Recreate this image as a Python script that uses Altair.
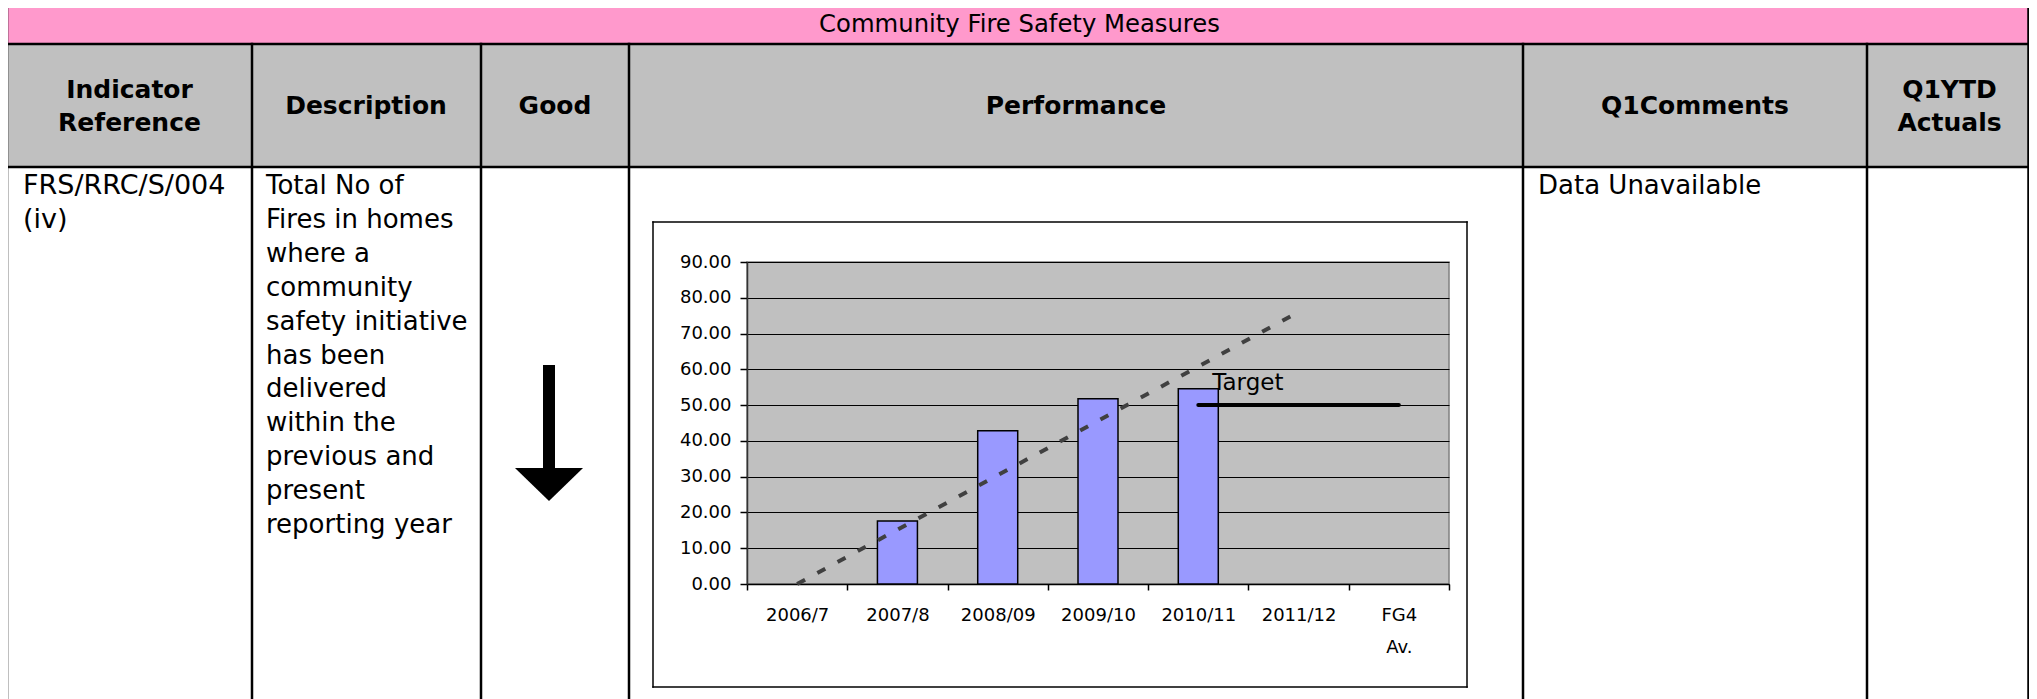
import altair as alt
import pandas as pd

# ---------------- data ----------------
categories = ["2006/7", "2007/8", "2008/09", "2009/10", "2010/11", "2011/12", "FG4 Av."]
bar_categories = ["2007/8", "2008/09", "2009/10", "2010/11"]
bar_values = [17.6, 42.8, 51.8, 54.6]
trend_categories = ["2006/7", "2011/12"]
trend_values = [0.0, 76.0]
target_categories = ["2010/11", "FG4 Av."]
target_values = [50.0, 50.0]
target_label = ["Target"]
y_ticks = [0, 10, 20, 30, 40, 50, 60, 70, 80, 90]

title_text = "Community Fire Safety Measures"
ref_lines = ["FRS/RRC/S/004", "(iv)"]
desc_lines = ["Total No of", "Fires in homes", "where a", "community",
              "safety initiative", "has been", "delivered", "within the",
              "previous and", "present", "reporting year"]
comment_text = "Data Unavailable"

FONT = "DejaVu Sans"
OX, OY = 747, 262          # page position of the plot area origin
PW, PH = 702, 322          # plot area size
SVG_W, SVG_H = 2021, 691   # total drawing size (page margin 8)

one = pd.DataFrame({"k": [0]})


def px(x):
    return x - OX


def py(y):
    return y - OY


def hrule(x1, x2, y, w=2.5, color="black"):
    return alt.Chart(one).mark_rule(color=color, strokeWidth=w, strokeCap="square").encode(
        x=alt.value(px(x1)), x2=alt.value(px(x2)), y=alt.value(py(y)))


def vrule(x, y1, y2, w=2.5, color="black", cap="square"):
    return alt.Chart(one).mark_rule(color=color, strokeWidth=w, strokeCap=cap).encode(
        x=alt.value(px(x)), y=alt.value(py(y1)), y2=alt.value(py(y2)))


def box(x1, x2, y1, y2, fill):
    return alt.Chart(one).mark_rect(color=fill, strokeWidth=0).encode(
        x=alt.value(px(x1)), x2=alt.value(px(x2)), y=alt.value(py(y1)), y2=alt.value(py(y2)))


def label(txt, x, y, size, bold=False, align="center"):
    return alt.Chart(one).mark_text(
        text=txt, font=FONT, fontSize=size, fontWeight="bold" if bold else "normal",
        align=align, baseline="middle", color="black").encode(
        x=alt.value(px(x)), y=alt.value(py(y)))


# table geometry (page pixels)
T_L, T_R, T_T, PINK_B, HEAD_B, T_B = 7, 2028.5, 6, 44, 167, 699
cols = [252, 481, 629, 1523, 1867]

layers = []
layers.append(box(T_L, T_R, T_T, PINK_B, "#FF99CC"))
layers.append(box(T_L, T_R, PINK_B, HEAD_B, "#C0C0C0"))

# chart frame
FR_L, FR_R, FR_T, FR_B = 653, 1467, 222, 687
layers += [hrule(FR_L, FR_R, FR_T, 1.5), hrule(FR_L, FR_R, FR_B, 1.5),
           vrule(FR_L, FR_T, FR_B, 1.5), vrule(FR_R, FR_T, FR_B, 1.5)]

# ---------------- chart ----------------
xscale = alt.Scale(domain=categories, paddingInner=0, paddingOuter=0)
yscale = alt.Scale(domain=[0, 90], nice=False, zero=True)
xaxis = alt.Axis(title=None, labelAngle=0, tickBand="extent", labelFont=FONT, labelFontSize=18,
                 labelColor="black", tickColor="black", domainColor="black", tickSize=6,
                 tickWidth=1.5, domainWidth=1.5, labelPadding=16, grid=False,
                 labelExpr="split(datum.label, ' ')", labelLineHeight=32)
yaxis = alt.Axis(title=None, values=y_ticks, format=".2f", labelFont=FONT, labelFontSize=18,
                 labelColor="black", tickColor="black", domainColor="#333333", tickSize=7,
                 tickWidth=1.5, domainWidth=1.5, labelPadding=9, grid=True,
                 gridColor="black", gridWidth=1)
X = alt.X("cat:N", scale=xscale, axis=xaxis)
Y = alt.Y("v:Q", scale=yscale, axis=yaxis)

bars_df = pd.DataFrame({"cat": bar_categories, "v": bar_values})
trend_df = pd.DataFrame({"cat": trend_categories, "v": trend_values})
target_df = pd.DataFrame({"cat": target_categories, "v": target_values})
tlabel_df = pd.DataFrame({"cat": target_categories[:1], "v": target_values[:1], "label": target_label})

layers.append(alt.Chart(bars_df).mark_bar(size=40, color="#9999FF", stroke="black",
                                          strokeWidth=1.5).encode(x=X, y=Y))
layers.append(alt.Chart(trend_df).mark_line(color="#404040", strokeWidth=4,
                                            strokeDash=[9, 14]).encode(x=X, y=Y))
layers.append(alt.Chart(target_df).mark_line(color="black", strokeWidth=4,
                                             strokeCap="round").encode(x=X, y=Y))
layers.append(alt.Chart(tlabel_df).mark_text(font=FONT, fontSize=23, align="left",
                                             baseline="alphabetic", dx=14, dy=-15,
                                             color="black").encode(x=X, y=Y, text="label:N"))

# ---------------- table text ----------------
layers.append(label(title_text, 1019.5, 25, 24.3))
layers.append(label("Indicator", 129.5, 90, 25, True))
layers.append(label("Reference", 129.5, 123, 25, True))
layers.append(label("Description", 366, 105.5, 25, True))
layers.append(label("Good", 555, 105.5, 25, True))
layers.append(label("Performance", 1076, 105.5, 25, True))
layers.append(label("Q1Comments", 1695, 105.5, 25, True))
layers.append(label("Q1YTD", 1949.5, 90, 25, True))
layers.append(label("Actuals", 1949.5, 123, 25, True))

for i, t in enumerate(ref_lines):
    layers.append(label(t, 23, 186 + i * 33.9, 27, align="left"))
for i, t in enumerate(desc_lines):
    layers.append(label(t, 266, 186 + i * 33.9, 26, align="left"))
layers.append(label(comment_text, 1538, 186, 26, align="left"))

# arrow in "Good" column
layers.append(vrule(549, 365, 470, 12, cap="butt"))
layers.append(alt.Chart(one).mark_point(shape="M -1 0 L 1 0 L 0 0.97 Z", filled=True,
                                        color="black", size=4624, opacity=1,
                                        strokeWidth=0).encode(
    x=alt.value(px(549)), y=alt.value(py(468))))

# ---------------- table borders ----------------
layers += [hrule(T_L, T_R, T_T), hrule(T_L, T_R, PINK_B), hrule(T_L, T_R, HEAD_B),
           vrule(T_L, T_T, T_B), vrule(T_R, T_T, T_B)]
for c in cols:
    layers.append(vrule(c, PINK_B, T_B))

chart = alt.layer(*layers).properties(
    width=PW, height=PH,
    autosize=alt.AutoSizeParams(type="none"),
    padding={"left": OX - 8, "top": OY - 8,
             "right": SVG_W - (OX - 8) - PW, "bottom": SVG_H - (OY - 8) - PH},
).configure_view(fill="#C0C0C0", stroke="#808080", strokeWidth=1.5)

chart.save("out.html", embed_options={"renderer": "svg", "actions": False})
